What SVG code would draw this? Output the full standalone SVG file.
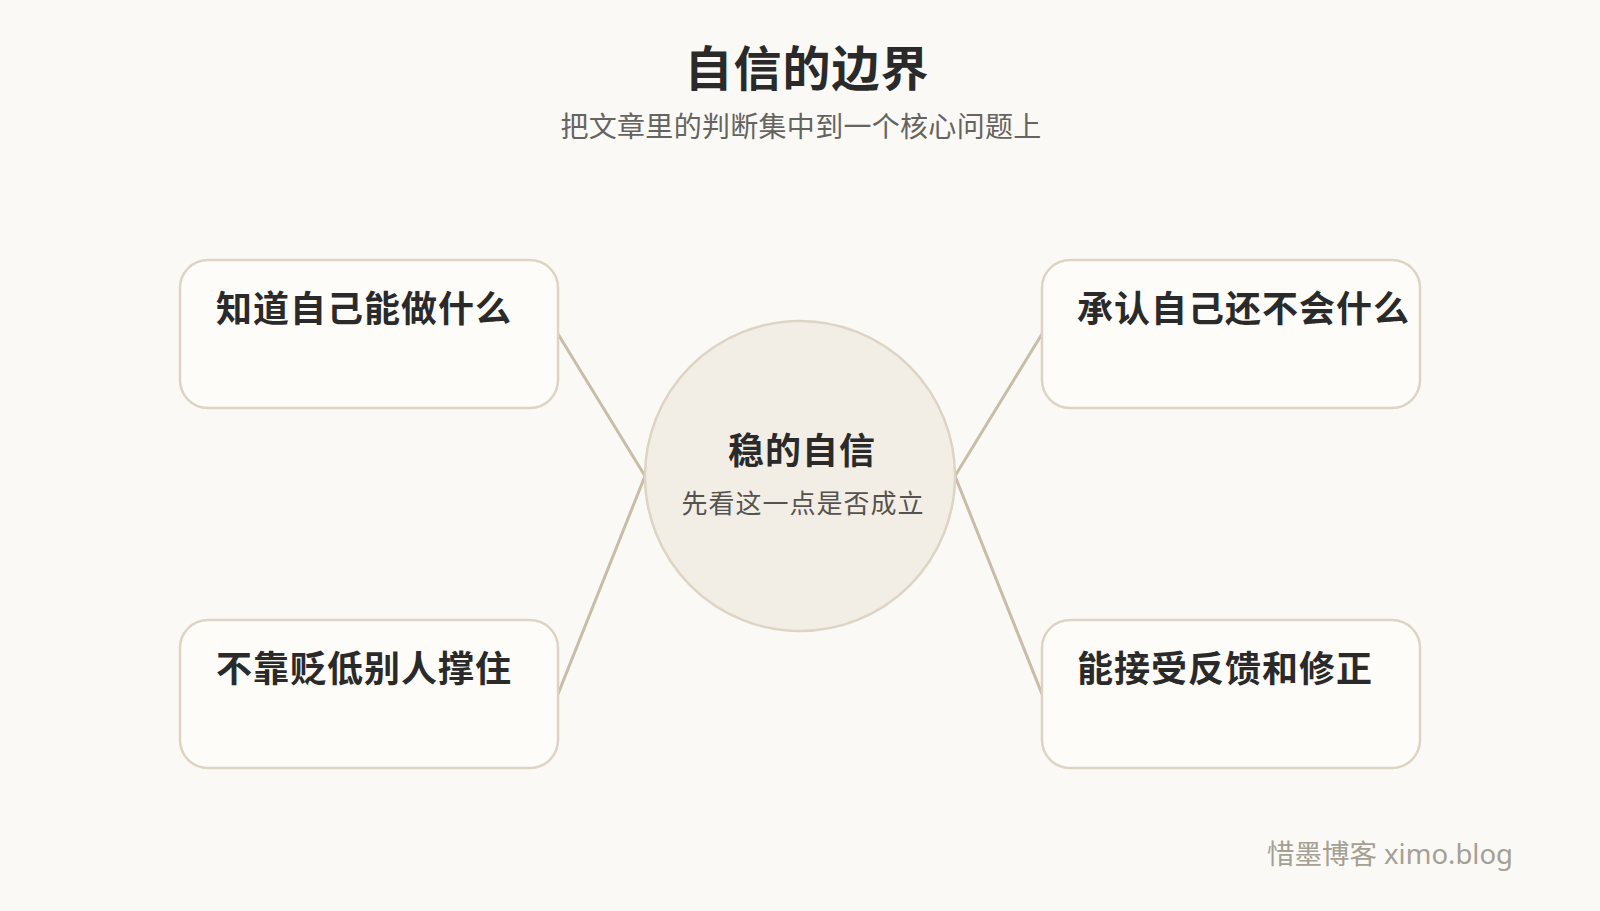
<svg xmlns="http://www.w3.org/2000/svg" width="1600" height="911" viewBox="0 0 1600 911">
<style>
.cjk{font-family:"Noto Sans CJK SC","Noto Sans",sans-serif}
.box{fill:#fdfcf9;stroke:#ddd4c4;stroke-width:2.5}
.lbl{font-size:36px;font-weight:700;fill:#2a2a2a;letter-spacing:1px}
.conn{stroke:#c8bda9;stroke-width:3;fill:none;stroke-linecap:round}
</style>
<rect x="0" y="0" width="1600" height="911" fill="#faf9f5"/>
<g id="title" class="cjk">
<text x="807" y="86" font-size="48" font-weight="700" fill="#2a2a2a" text-anchor="middle" letter-spacing="1">自信的边界</text>
<text x="801" y="137" font-size="28" fill="#666460" text-anchor="middle" letter-spacing="0.3">把文章里的判断集中到一个核心问题上</text>
</g>
<g id="connectors">
<line class="conn" x1="558" y1="334" x2="645" y2="476"/>
<line class="conn" x1="558" y1="694" x2="645" y2="476"/>
<line class="conn" x1="1042" y1="334" x2="955" y2="476"/>
<line class="conn" x1="1042" y1="694" x2="955" y2="476"/>
</g>
<g id="center" class="cjk">
<circle cx="800" cy="476" r="155" fill="#f2eee6" stroke="#ddd4c4" stroke-width="2.5"/>
<text x="802" y="464" font-size="36" font-weight="700" fill="#2a2a2a" text-anchor="middle" letter-spacing="1">稳的自信</text>
<text x="803" y="513" font-size="26" fill="#555350" text-anchor="middle" letter-spacing="1">先看这一点是否成立</text>
</g>
<g id="node-tl" class="cjk">
<rect class="box" x="180" y="260" width="378" height="148" rx="28"/>
<text class="lbl" x="216" y="322">知道自己能做什么</text>
</g>
<g id="node-tr" class="cjk">
<rect class="box" x="1042" y="260" width="378" height="148" rx="28"/>
<text class="lbl" x="1077" y="322">承认自己还不会什么</text>
</g>
<g id="node-bl" class="cjk">
<rect class="box" x="180" y="620" width="378" height="148" rx="28"/>
<text class="lbl" x="216" y="682">不靠贬低别人撑住</text>
</g>
<g id="node-br" class="cjk">
<rect class="box" x="1042" y="620" width="378" height="148" rx="28"/>
<text class="lbl" x="1077" y="682">能接受反馈和修正</text>
</g>
<g id="footer">
<text x="1513" y="864" font-size="27.5" fill="#a59f94" text-anchor="end" font-family="'Noto Sans','Noto Sans CJK SC',sans-serif">惜墨博客 ximo.blog</text>
</g>
</svg>
